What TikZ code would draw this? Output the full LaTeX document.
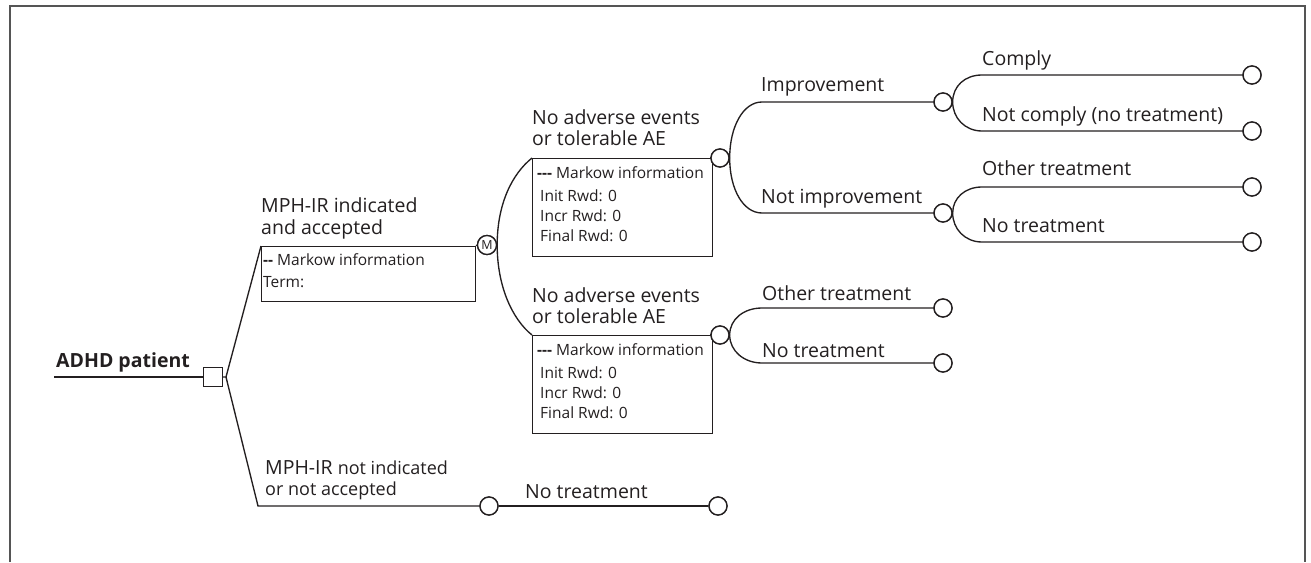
\documentclass[tikz,border=0pt]{standalone}
\usepackage{fontspec}
\setmainfont{Open Sans}
\definecolor{ink}{HTML}{231F20}
\definecolor{framec}{HTML}{555555}
\newcommand\twoline[2]{\vtop{\hbox{#1}\hbox{#2}}}
\newcommand\threeline[3]{\vtop{\hbox{#1}\hbox{#2}\hbox{#3}}}
\begin{document}
\begin{tikzpicture}[x=1pt,y=-1pt,
  conn/.style={draw=ink,line width=1.35pt},
  chance/.style={circle,draw=ink,line width=1.35pt,fill=white,minimum size=18pt,inner sep=0pt},
  lbl/.style={anchor=base west,inner sep=0pt,text=ink,font=\fontsize{19.5}{21.5}\selectfont},
  mtext/.style={anchor=base west,inner sep=0pt,text=ink,font=\fontsize{15.5}{20}\selectfont},
  mbox/.style={draw=ink,line width=1.35pt,anchor=north west,inner sep=0pt,minimum width=180pt,minimum height=98pt},
]
\useasboundingbox (0,0) rectangle (1311,562);
\draw[framec,line width=2pt] (10,562) -- (10,6) -- (1305,6) -- (1305,562);

% root
\coordinate (rootstart) at (54,377);
\node[draw=ink,line width=1.35pt,fill=white,minimum size=19pt,inner sep=0pt] (dec) at (213,377) {};
\node[anchor=base west,inner sep=0pt,text=ink,font=\fontsize{19.5}{21.5}\selectfont\bfseries] (adhd) at (56,367) {ADHD patient};
\coordinate (fork) at (226,377);

% MPH indicated branch
\node[draw=ink,line width=1.35pt,anchor=north west,inner sep=0pt,minimum width=214pt,minimum height=55pt] (mph) at (261,246) {};
\node[circle,draw=ink,line width=1.35pt,fill=white,minimum size=19pt,inner sep=0pt] (M) at (487,245) {};
\node[lbl] (mphlbl) at (261,212.7) {\twoline{MPH-IR indicated}{and accepted}};
\node[mtext] (mphhead) at (263,265.3) {\textbf{-{}-} Markow information};
\node[mtext] (mphterm) at (263,287.3) {Term:};

% Markov boxes
\node[mbox] (mb1) at (532,158) {};
\node[mbox] (mb2) at (532,335) {};
\node[lbl] (ae1) at (532,124) {\twoline{No adverse events}{or tolerable AE}};
\node[lbl] (ae2) at (532,302) {\twoline{No adverse events}{or tolerable AE}};
\node[mtext] (mh1) at (537,178.3) {\textbf{-{}-{}-} Markow information};
\node[mtext] (mr1) at (540,201.7) {\threeline{Init Rwd: 0}{Incr Rwd: 0}{Final Rwd: 0}};
\node[mtext] (mh2) at (537,355) {\textbf{-{}-{}-} Markow information};
\node[mtext] (mr2) at (540,378.3) {\threeline{Init Rwd: 0}{Incr Rwd: 0}{Final Rwd: 0}};

% chance nodes
\node[chance] (c1) at (720,158) {};
\node[chance] (c2) at (720,335) {};
\node[chance] (ci) at (943,102) {};
\node[chance] (cn) at (943,213) {};
\node[chance] (k1) at (1252,75) {};
\node[chance] (k2) at (1252,131) {};
\node[chance] (k3) at (1252,187) {};
\node[chance] (k4) at (1252,242) {};
\node[chance] (o1) at (943,308) {};
\node[chance] (o2) at (943,363) {};
\node[chance] (cb1) at (489,506) {};
\node[chance] (cb2) at (718,506) {};

% bend points
\coordinate (a1) at (762,102);
\coordinate (a2) at (762,213);
\coordinate (b1) at (982,75);
\coordinate (b2) at (982,131);
\coordinate (b3) at (982,187);
\coordinate (b4) at (982,242);
\coordinate (d1) at (762,308);
\coordinate (d2) at (762,363);
\coordinate (lowcorner) at (258,506);

% connectors
\draw[conn] (rootstart) -- (dec.west);
\draw[conn] (dec.east) -- (fork) -- (mph.north west);
\draw[conn] (fork) -- (lowcorner) -- (cb1.west);
\draw[conn] (cb1.east) -- (cb2.west);
\draw[conn] (mph.north east) -- (M.west);
\draw[conn] (M.east) .. controls +(0,-41) and +(-20,16) .. (mb1.north west);
\draw[conn] (M.east) .. controls +(0,41) and +(-20,-16) .. (mb2.north west);
\draw[conn] (mb1.north east) -- (c1.west);
\draw[conn] (mb2.north east) -- (c2.west);
\draw[conn] (c1.east) .. controls +(0,-31) and +(-19,0) .. (a1) -- (ci.west);
\draw[conn] (c1.east) .. controls +(0,31) and +(-19,0) .. (a2) -- (cn.west);
\draw[conn] (ci.east) .. controls +(0,-16) and +(-17,0) .. (b1) -- (k1.west);
\draw[conn] (ci.east) .. controls +(0,16) and +(-17,0) .. (b2) -- (k2.west);
\draw[conn] (cn.east) .. controls +(0,-15) and +(-17,0) .. (b3) -- (k3.west);
\draw[conn] (cn.east) .. controls +(0,16) and +(-17,0) .. (b4) -- (k4.west);
\draw[conn] (c2.east) .. controls +(0,-16) and +(-18,0) .. (d1) -- (o1.west);
\draw[conn] (c2.east) .. controls +(0,16) and +(-18,0) .. (d2) -- (o2.west);

% redraw circles on top
\foreach \n in {c1,c2,ci,cn,k1,k2,k3,k4,o1,o2,cb1,cb2}{\draw[ink,line width=1.35pt,fill=white] (\n) circle (9pt);}
\draw[ink,line width=1.35pt,fill=white] (M) circle (9.5pt);
\node[text=ink,inner sep=0pt,font=\fontsize{12.5}{12.5}\selectfont] (Mtext) at (M) {M};

% labels
\node[lbl] (limp) at (761,91) {Improvement};
\node[lbl] (lnimp) at (761,203.3) {Not improvement};
\node[lbl] (lcomply) at (982,65) {Comply};
\node[lbl] (lncomply) at (982,121.7) {Not comply (no treatment)};
\node[lbl] (lother1) at (982,175.7) {Other treatment};
\node[lbl] (lnotr1) at (982,232.3) {No treatment};
\node[lbl] (lother2) at (762,300.7) {Other treatment};
\node[lbl] (lnotr2) at (762,357.3) {No treatment};
\node[lbl] (lnotind) at (265,474) {\twoline{MPH-IR {\fontsize{18}{21.5}\selectfont not indicated}}{\fontsize{18}{21.5}\selectfont or not accepted}};
\node[lbl] (lnotr3) at (525,498) {No treatment};
\end{tikzpicture}
\end{document}
